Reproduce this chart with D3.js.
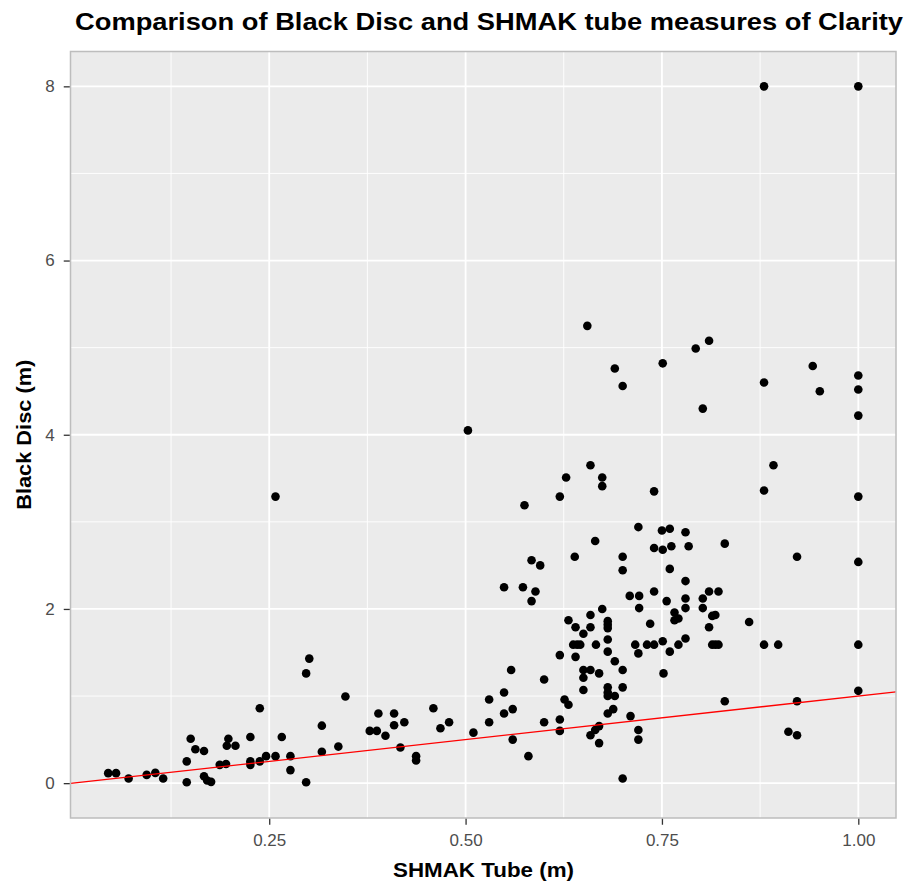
<!DOCTYPE html>
<html><head><meta charset="utf-8">
<script src="https://cdn.jsdelivr.net/npm/d3@7"></script>
<style>
body{margin:0;background:#fff}
svg{display:block}
text{font-family:"Liberation Sans", Arial, sans-serif}
</style>
</head><body>
<svg id="chart" width="906" height="884"></svg>
<script>
// ---- data ----
const shmakTube = [
 0.045,0.055,0.071,0.094,0.105,0.115,0.145,0.145,0.15,0.156,0.167,0.167,0.171,0.176,0.187,0.195,0.198,0.196,0.207,0.226,0.226,0.226,0.238,0.238,0.246,0.258,0.266,0.277,0.277,0.297,0.301,0.297,0.317,0.317,0.338,0.347,0.258,
 0.378,0.387,0.389,0.398,0.409,0.409,0.417,0.422,0.437,0.437,0.459,0.468,0.479,0.51,0.53,0.53,0.549,0.549,0.56,0.558,0.56,0.58,0.60,0.60,0.62,0.62,0.62,0.626,0.631,0.631,0.64,0.65,0.637,0.642,0.646,0.64,0.659,0.659,0.65,0.659,0.67,0.65,0.65,0.666,0.674,0.681,0.681,0.681,0.681,0.681,0.69,0.70,0.70,0.681,0.681,0.681,0.69,0.681,0.688,0.67,0.665,0.659,0.67,0.70,0.71,0.709,0.721,0.721,0.716,0.72,0.72,0.72,0.549,0.573,0.589,0.584,
 0.70,0.76,0.78,0.74,0.756,0.81,0.822,0.802,0.802,0.78,0.78,0.766,0.771,0.766,0.814,0.818,0.81,0.861,0.735,0.731,0.74,0.751,0.76,0.771,0.78,0.814,0.818,0.822,0.88,0.898,1.0,1.0,0.752,0.83,0.922,0.911,0.922,
 0.655,0.69,0.70,0.751,0.793,0.81,0.802,0.88,0.942,0.951,1.0,1.0,1.0,0.659,0.628,0.674,0.674,0.62,0.74,0.892,0.88,1.0,0.72,0.75,0.76,0.78,0.70,0.74,0.751,0.762,0.784,0.83,0.922,1.0,
 0.503,0.575,0.584,0.595,0.639,0.665,
 0.88,1.0
];
const blackDisc = [
 0.115,0.115,0.054,0.095,0.118,0.054,0.25,0.01,0.51,0.39,0.37,0.08,0.03,0.015,0.21,0.22,0.51,0.43,0.43,0.53,0.25,0.21,0.86,0.25,0.31,0.31,0.53,0.31,0.15,1.26,1.43,0.01,0.66,0.36,0.42,0.995,3.29,
 0.60,0.60,0.80,0.545,0.80,0.665,0.41,0.70,0.31,0.26,0.86,0.63,0.70,0.58,0.96,0.70,1.04,0.80,0.85,1.30,0.50,0.31,1.19,0.70,1.47,0.73,0.60,0.96,0.90,1.87,1.79,1.715,1.59,1.59,1.59,1.45,1.93,1.79,1.30,1.30,1.26,1.21,1.07,1.59,2.00,1.86,1.82,1.78,1.65,1.51,1.40,1.30,1.10,1.10,1.04,1.00,1.00,0.80,0.85,0.655,0.61,0.55,0.46,0.054,0.77,2.15,2.15,2.01,1.59,1.49,0.61,0.50,2.25,2.25,2.20,2.09,
 2.445,2.46,2.32,2.20,2.09,2.20,2.20,2.12,2.01,2.12,2.01,1.96,1.89,1.87,1.92,1.93,1.79,1.85,1.83,1.59,1.59,1.63,1.51,1.59,1.66,1.59,1.59,1.59,1.59,1.59,1.59,1.06,1.26,0.94,0.94,0.59,0.55,
 5.25,4.76,4.56,4.82,4.99,5.08,4.30,4.60,4.79,4.50,4.68,4.52,4.22,3.65,3.51,3.51,3.41,3.29,3.35,3.65,3.36,3.29,2.94,2.90,2.92,2.88,2.60,2.70,2.68,2.72,2.72,2.75,2.60,2.54,
 4.05,3.19,2.56,2.50,2.60,2.78,
 8,8
];
const xTicks = [0.25, 0.5, 0.75, 1.0];
const xTickLabels = ["0.25", "0.50", "0.75", "1.00"];
const xMinor = [0.125, 0.375, 0.625, 0.875];
const yTicks = [0, 2, 4, 6, 8];
const yTickLabels = ["0", "2", "4", "6", "8"];
const yMinor = [1, 3, 5, 7];
const refSlope = 1, refIntercept = 0;
const titleText = "Comparison of Black Disc and SHMAK tube measures of Clarity";
const xTitle = "SHMAK Tube (m)";
const yTitle = "Black Disc (m)";

// ---- layout ----
const svg = d3.select("#chart");
const P = {left: 70.5, right: 896, top: 51.5, bottom: 818};
const x = d3.scaleLinear().domain([-0.003, 1.048]).range([P.left, P.right]);
const y = d3.scaleLinear().domain([-0.4, 8.4]).range([P.bottom, P.top]);

svg.append("rect").attr("width", 906).attr("height", 884).attr("fill", "#fff");
svg.append("rect").attr("x", P.left).attr("y", P.top)
  .attr("width", P.right - P.left).attr("height", P.bottom - P.top).attr("fill", "#EBEBEB");

const grid = svg.append("g");
grid.selectAll(".xmin").data(xMinor).join("line").attr("class","xmin")
  .attr("x1", d => x(d)).attr("x2", d => x(d)).attr("y1", P.top).attr("y2", P.bottom)
  .attr("stroke", "#fff").attr("stroke-width", 0.9);
grid.selectAll(".ymin").data(yMinor).join("line").attr("class","ymin")
  .attr("y1", d => y(d)).attr("y2", d => y(d)).attr("x1", P.left).attr("x2", P.right)
  .attr("stroke", "#fff").attr("stroke-width", 0.9);
grid.selectAll(".xmaj").data(xTicks).join("line").attr("class","xmaj")
  .attr("x1", d => x(d)).attr("x2", d => x(d)).attr("y1", P.top).attr("y2", P.bottom)
  .attr("stroke", "#fff").attr("stroke-width", 1.8);
grid.selectAll(".ymaj").data(yTicks).join("line").attr("class","ymaj")
  .attr("y1", d => y(d)).attr("y2", d => y(d)).attr("x1", P.left).attr("x2", P.right)
  .attr("stroke", "#fff").attr("stroke-width", 1.8);

// clip
svg.append("clipPath").attr("id", "clip").append("rect")
  .attr("x", P.left).attr("y", P.top).attr("width", P.right - P.left).attr("height", P.bottom - P.top);

const pts = shmakTube.map((v, i) => ({x: v, y: blackDisc[i]}));
svg.append("g").attr("clip-path", "url(#clip)")
  .selectAll("circle").data(pts).join("circle")
  .attr("cx", d => x(d.x)).attr("cy", d => y(d.y)).attr("r", 4.3).attr("fill", "#000");

const xd = x.domain();
svg.append("line").attr("clip-path", "url(#clip)")
  .attr("x1", x(xd[0])).attr("y1", y(refIntercept + refSlope * xd[0]))
  .attr("x2", x(xd[1])).attr("y2", y(refIntercept + refSlope * xd[1]))
  .attr("stroke", "#FF0000").attr("stroke-width", 1.3);

// panel border
svg.append("rect").attr("x", P.left).attr("y", P.top)
  .attr("width", P.right - P.left).attr("height", P.bottom - P.top)
  .attr("fill", "none").attr("stroke", "#BDBDBD").attr("stroke-width", 1.5);

// axes
const xAxis = svg.append("g").attr("transform", `translate(0,${P.bottom + 0.75})`)
  .call(d3.axisBottom(x).tickValues(xTicks).tickFormat((d, i) => xTickLabels[i]).tickSize(6).tickPadding(9));
const yAxis = svg.append("g").attr("transform", `translate(${P.left - 0.75},0)`)
  .call(d3.axisLeft(y).tickValues(yTicks).tickFormat((d, i) => yTickLabels[i]).tickSize(6).tickPadding(9));
[xAxis, yAxis].forEach(a => {
  a.select(".domain").remove();
  a.selectAll(".tick line").attr("stroke", "#333333").attr("stroke-width", 1.3);
  a.selectAll(".tick text").attr("fill", "#4D4D4D").style("font-size", "17px")
    .style("font-family", '"Liberation Sans", Arial, sans-serif');
});

// titles
svg.append("text").attr("x", 75).attr("y", 30)
  .style("font-size", "24px").style("font-weight", "bold").attr("fill", "#000").text(titleText)
  .attr("textLength", 828).attr("lengthAdjust", "spacingAndGlyphs");

svg.append("text").attr("x", 483.5).attr("y", 877).attr("text-anchor", "middle")
  .style("font-size", "20px").style("font-weight", "bold").attr("fill", "#000").text(xTitle)
  .attr("textLength", 181).attr("lengthAdjust", "spacingAndGlyphs");

svg.append("text").attr("transform", `translate(31,${(P.top + P.bottom) / 2}) rotate(-90)`)
  .attr("text-anchor", "middle")
  .style("font-size", "20px").style("font-weight", "bold").attr("fill", "#000").text(yTitle)
  .attr("textLength", 150).attr("lengthAdjust", "spacingAndGlyphs");
</script>
</body></html>
